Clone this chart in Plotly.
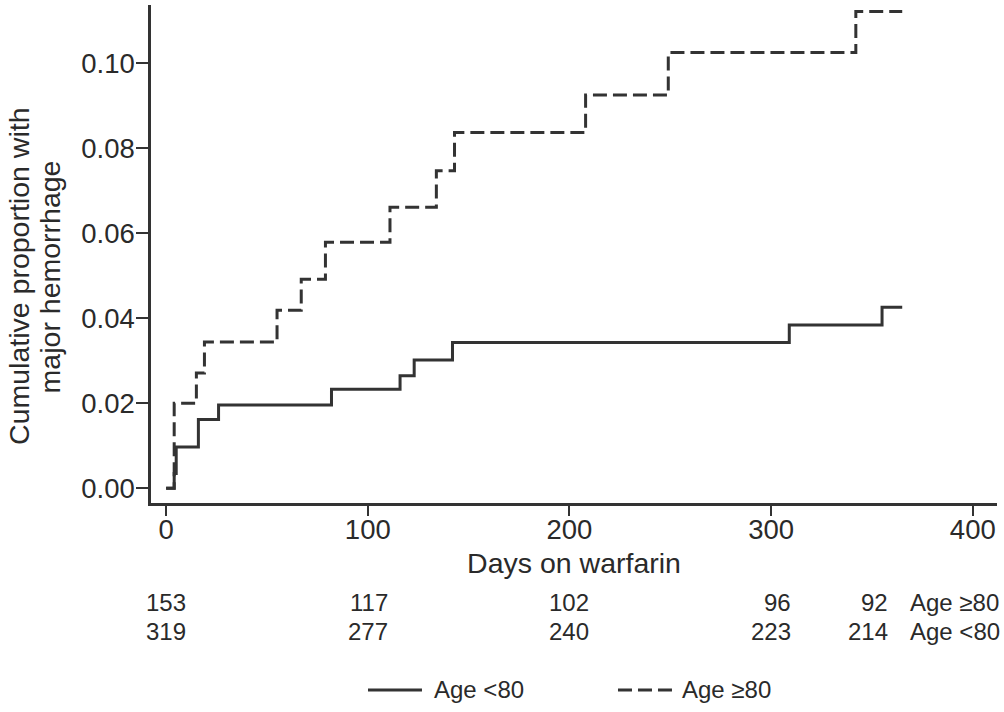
import plotly.graph_objects as go

# ---- data ----
days_lt80 = [0, 4, 5, 16, 26, 82, 116, 123, 142, 309, 355, 365]
cum_lt80 = [0.0, 0.0035, 0.0097, 0.0162, 0.0196, 0.0233, 0.0265, 0.0302, 0.0343, 0.0384, 0.0426, 0.0426]

days_ge80 = [0, 4, 15, 19, 55, 67, 79, 111, 134, 143, 208, 249, 342, 365]
cum_ge80 = [0.0, 0.0200, 0.0271, 0.0344, 0.0419, 0.0492, 0.0579, 0.0661, 0.0747, 0.0837, 0.0925, 0.1025, 0.1122, 0.1122]

risk_times = [0, 100, 200, 300, 348]
risk_ge80 = [153, 117, 102, 96, 92]
risk_lt80 = [319, 277, 240, 223, 214]
risk_labels = ["Age \u226580", "Age <80"]

x_ticks = [0, 100, 200, 300, 400]
y_ticks = [0.00, 0.02, 0.04, 0.06, 0.08, 0.10]

INK = "#333333"
TXT = "#2a2a2a"
FONT = "Liberation Sans, Arial, sans-serif"
DASH = "14px,6px"

fig = go.Figure()
fig.add_trace(go.Scatter(x=days_lt80, y=cum_lt80, mode="lines", line_shape="hv",
                         line=dict(color=INK, width=3), name="Age <80", showlegend=False))
fig.add_trace(go.Scatter(x=days_ge80, y=cum_ge80, mode="lines", line_shape="hv",
                         line=dict(color=INK, width=3, dash=DASH), name="Age \u226580", showlegend=False))

fig.update_layout(
    width=1004, height=712,
    margin=dict(l=151, r=7, t=5, b=209),
    paper_bgcolor="white", plot_bgcolor="white",
    font=dict(family=FONT, color=TXT, size=26),
    showlegend=False,
)
fig.update_xaxes(range=[-7.5, 412], tickvals=x_ticks, ticktext=[str(v) for v in x_ticks],
                 showline=True, linecolor=INK, linewidth=2.5, ticks="outside", ticklen=10,
                 tickwidth=2, tickcolor=INK, showgrid=False, zeroline=False,
                 ticklabelstandoff=-10,
                 tickfont=dict(size=27.5, color=TXT),
                 title=dict(text="Days on warfarin", font=dict(size=28.5, color=TXT), standoff=10))
fig.update_yaxes(range=[-0.00346, 0.1137], tickvals=y_ticks, ticktext=[f"{v:.2f}" for v in y_ticks],
                 showline=True, linecolor=INK, linewidth=2.5, ticks="outside", ticklen=12,
                 tickwidth=2, tickcolor=INK, showgrid=False, zeroline=False,
                 ticklabelstandoff=-4,
                 tickfont=dict(size=27.5, color=TXT))

# y-axis title (two lines, rotated)
for text, xp in [("Cumulative proportion with", -0.1560), ("major hemorrhage", -0.1200)]:
    fig.add_annotation(text=text, textangle=-90,
                       xref="paper", yref="paper", x=xp, y=0.454, xanchor="center", yanchor="middle",
                       showarrow=False, font=dict(size=28.5, color=TXT))

# number-at-risk table
row_y = [-0.2008, -0.259]
for row, counts in enumerate([risk_ge80, risk_lt80]):
    for t, n in zip(risk_times, counts):
        fig.add_annotation(text=str(n), x=t, y=row_y[row], xref="x", yref="paper",
                           xanchor="right", yanchor="middle", xshift=22, showarrow=False,
                           font=dict(size=24, color=TXT))
    fig.add_annotation(text=risk_labels[row], x=368, y=row_y[row], xref="x", yref="paper",
                       xanchor="left", yanchor="middle", showarrow=False,
                       font=dict(size=24, color=TXT))

# legend (manual, long line samples)
leg_y = -0.3755
for (x0, x1, xt, dash, label) in [(0.2565, 0.3203, 0.3322, "solid", "Age <80"),
                                   (0.552, 0.6158, 0.6253, DASH, "Age \u226580")]:
    fig.add_shape(type="line", xref="paper", yref="paper", x0=x0, x1=x1, y0=leg_y, y1=leg_y,
                  line=dict(color=INK, width=3, dash=dash))
    fig.add_annotation(text=label, xref="paper", yref="paper", x=xt, y=leg_y,
                       xanchor="left", yanchor="middle", showarrow=False,
                       font=dict(size=24, color=TXT))

fig.write_html("out.html", config={"displayModeBar": False},
               post_script="document.body.style.margin='0px';")
